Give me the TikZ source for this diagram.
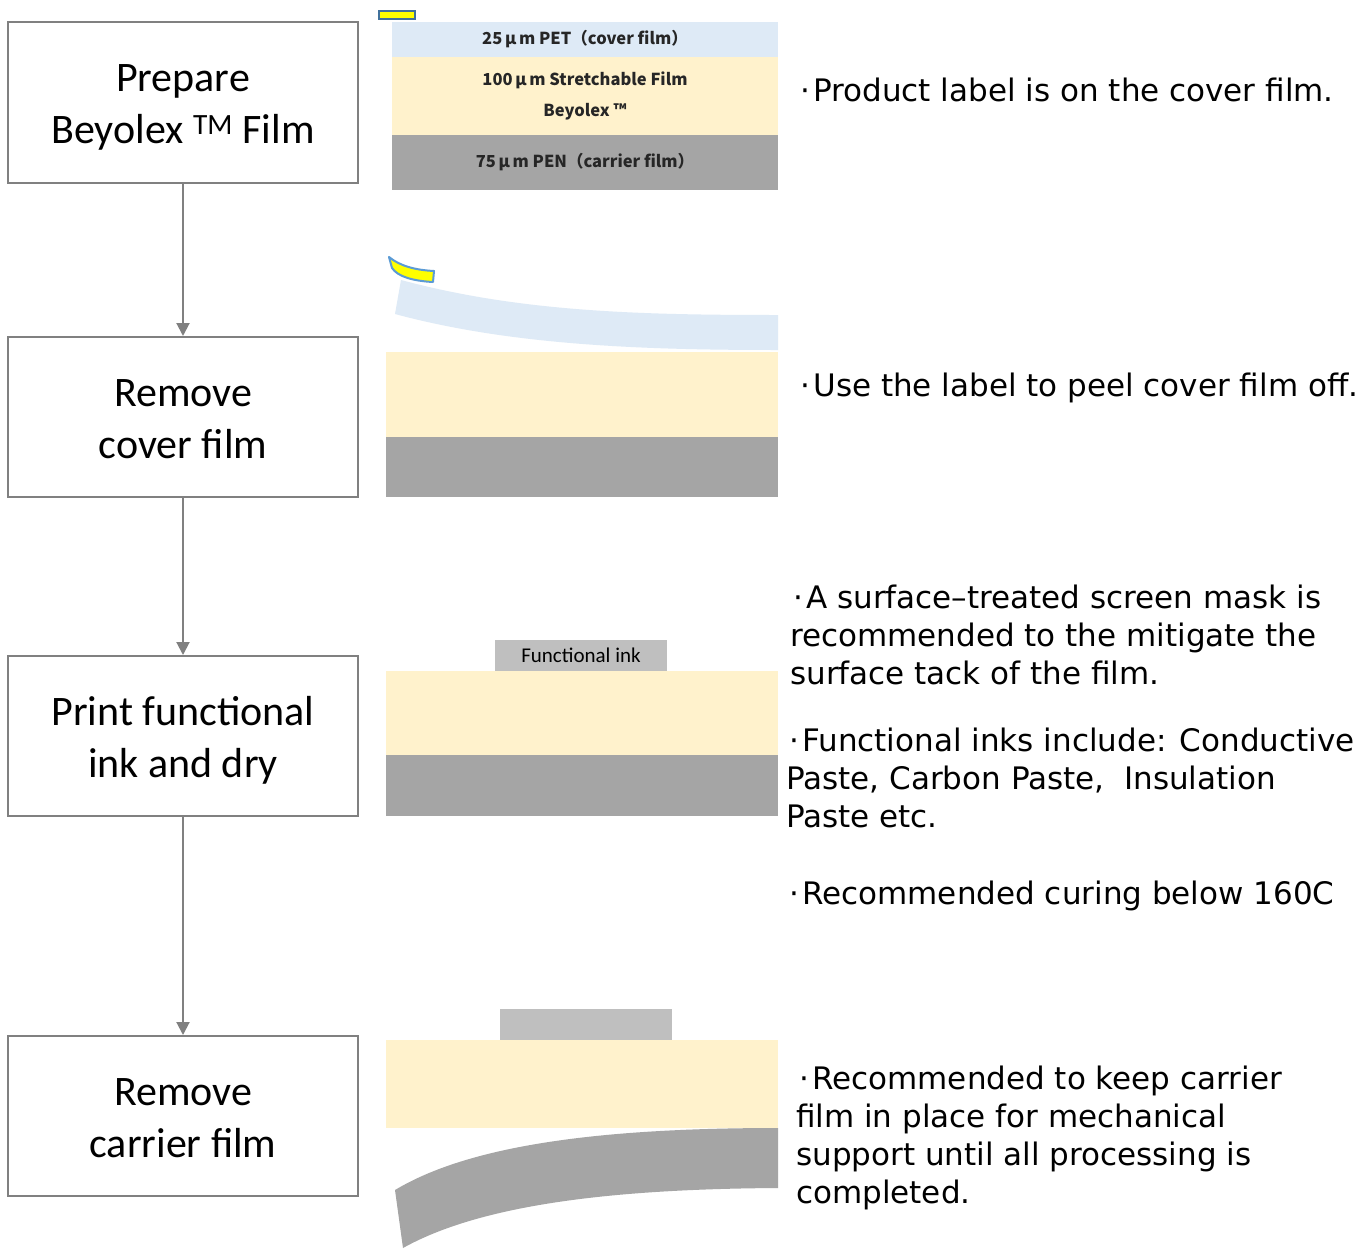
\documentclass[tikz,border=0pt]{standalone}
\usepackage{fontspec}
\setmainfont{DejaVu Sans}
\newfontfamily\boxfont{Carlito}
\newfontfamily\jpfont{Noto Sans CJK JP}
\newfontfamily\rtfont{DejaVu Sans}
\usetikzlibrary{arrows.meta}
\definecolor{boxgray}{HTML}{808080}
\definecolor{petblue}{HTML}{DEEAF6}
\definecolor{stretchy}{HTML}{FFF2CC}
\definecolor{pengray}{HTML}{A5A5A5}
\definecolor{inkgray}{HTML}{BFBFBF}
\definecolor{labelyellow}{HTML}{FFFF00}
\definecolor{labelblueA}{HTML}{41719C}
\definecolor{labelblueB}{HTML}{5B9BD5}
\definecolor{filmtext}{HTML}{262626}
\newcommand\bul{\makebox[0.52em][c]{·}}
\begin{document}
\begin{tikzpicture}[x=1pt,y=-1pt,
  stepbox/.style={draw=boxgray, line width=2pt, fill=white, minimum width=350pt,
    minimum height=160pt, inner sep=0pt, align=center, text height=92pt, text depth=10pt,
    font=\boxfont\fontsize{42}{52}\selectfont},
  flow/.style={draw=boxgray, line width=2pt, -{Triangle[length=13pt,width=13pt]}},
  layer/.style={inner sep=0pt, outer sep=0pt, align=center, text=filmtext,
    font=\jpfont\bfseries\fontsize{16.5}{31}\selectfont},
  inklayer/.style={fill=inkgray, inner sep=0pt, minimum width=172pt, minimum height=31pt,
    font=\boxfont\fontsize{21}{25}\selectfont},
  note/.style={font=\rtfont\fontsize{31}{38}\selectfont, align=left, anchor=base west,
    inner sep=0pt},
  tablabel/.style={fill=labelyellow, draw=labelblueA, line width=2pt},
  peeltab/.style={fill=labelyellow, draw=labelblueB, line width=2pt, line join=round}
]
\useasboundingbox (0,0) rectangle (1370,1250);
\fill[white] (0,0) rectangle (1370,1250);

% ---------- process boxes ----------
\node[stepbox, minimum height=161pt] (b1) at (183,102.5) {Prepare\\Beyolex \textsuperscript{TM} Film};
\node[stepbox] (b2) at (183,417) {Remove\\cover film};
\node[stepbox] (b3) at (183,736) {Print functional\\ink and dry};
\node[stepbox] (b4) at (183,1116) {Remove\\carrier film};

\draw[flow] (b1.south) -- (b2.north);
\draw[flow] (b2.south) -- (b3.north);
\draw[flow] (b3.south) -- (b4.north);

% ---------- stack 1 ----------
\node[layer, fill=petblue, minimum width=386pt, minimum height=35pt] (pet1) at (585,39.5)
  {25\,μ\,m PET（cover film）};
\node[layer, fill=stretchy, minimum width=386pt, minimum height=78pt] (st1) at (585,96)
  {\raisebox{-2pt}{\parbox{380pt}{\centering 100\,μ\,m Stretchable Film\\Beyolex ™}}};
\node[layer, fill=pengray, minimum width=386pt, minimum height=55pt] (pen1) at (585,162.5)
  {75\,μ\,m PEN（carrier film）};
\node[tablabel, minimum width=36pt, minimum height=8pt, inner sep=0pt] (tab1) at (397,14.5) {};

% ---------- stack 2 ----------
\fill[petblue] (401,280) .. controls (520,312) and (640,315) .. (778,315)
  -- (778,350) .. controls (640,350) and (510,345) .. (395,314) -- cycle;
\filldraw[peeltab] (389,257) .. controls (400,266) and (415,270) .. (434,271)
  -- (433,282) .. controls (414,281) and (398,277) .. (392,268) -- cycle;
\node[fill=stretchy, inner sep=0pt, minimum width=392pt, minimum height=85pt] (st2) at (582,394.5) {};
\node[fill=pengray, inner sep=0pt, minimum width=392pt, minimum height=60pt] (pen2) at (582,467) {};

% ---------- stack 3 ----------
\node[inklayer] (ink3) at (581,655.5) {Functional ink};
\node[fill=stretchy, inner sep=0pt, minimum width=392pt, minimum height=84pt] (st3) at (582,713) {};
\node[fill=pengray, inner sep=0pt, minimum width=392pt, minimum height=61pt] (pen3) at (582,785.5) {};

% ---------- stack 4 ----------
\node[inklayer] (ink4) at (586,1024.5) {};
\node[fill=stretchy, inner sep=0pt, minimum width=392pt, minimum height=88pt] (st4) at (582,1084) {};
\fill[pengray] (778,1128) .. controls (600,1128) and (470,1145) .. (395,1190)
  -- (403,1248) .. controls (480,1205) and (610,1189) .. (778,1188) -- cycle;

% ---------- notes (anchor = baseline of last line) ----------
\node[note] (n1) at (797,101) {\bul Product label is on the cover film.};
\node[note] (n2) at (797,396) {\bul Use the label to peel cover film off.};
\node[note] (n3) at (790,684) {\bul A surface–treated screen mask is\\recommended to the mitigate the\\surface tack of the film.};
\node[note] (n4) at (786,827) {\bul Functional inks include: Conductive\\Paste, Carbon Paste,~ Insulation\\Paste etc.};
\node[note] (n5) at (786,904) {\bul Recommended curing below 160C};
\node[note] (n6) at (796,1203) {\bul Recommended to keep carrier\\film in place for mechanical\\support until all processing is\\completed.};
\end{tikzpicture}
\end{document}
